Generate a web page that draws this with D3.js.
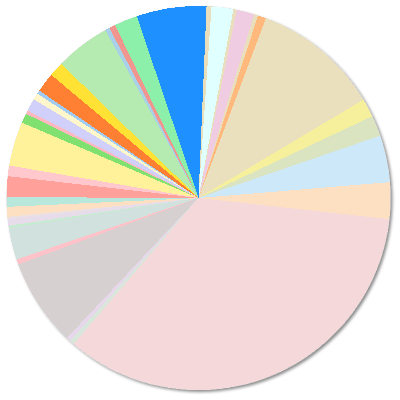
<!DOCTYPE html>
<html>
<head>
<meta charset="utf-8">
<script src="https://cdn.jsdelivr.net/npm/d3@7"></script>
<style>
html,body{margin:0;padding:0;background:#fff;}
svg{display:block;}
</style>
</head>
<body>
<svg id="chart" width="400" height="400"></svg>
<script>
// Slice values (degrees of arc, read clockwise starting just right of 12 o'clock)
const values = [1.5, 6.6, 1.0, 5.4, 1.2, 2.5, 38.7, 5.6, 6.3, 14.2, 11.1, 124.4,
  1.4, 1.3, 26.6, 1.6, 9.6, 0.7, 2.1, 0.6, 3.0, 2.9, 6.3, 3.2, 13.4, 2.9, 1.1,
  3.8, 2.0, 1.1, 5.9, 4.5, 16.6, 1.4, 1.9, 7.0, 21.2];
const colors = ["#e9dfbc", "#e0ffff", "#e9dfbc", "#f0cce2", "#e9dfbc", "#ffb97c", "#ebe0bd",
  "#f6f09c", "#dbe4c1", "#cde9f9", "#fde0c1", "#f4d8da",
  "#d8e6dc", "#e6d8ea", "#d6d0d0", "#ffc2c8", "#d1e1de", "#c6ecd0", "#e6dcea", "#ece0e0",
  "#fde0c1", "#b8e8dc", "#ffa09a", "#ffc8cc", "#fff29a", "#80e070", "#ffb8c0",
  "#d0d0fa", "#fff6cc", "#a2cbf2", "#ff7f33", "#ffe233", "#b5eab1", "#a9d0e9", "#f0968f",
  "#8cf0aa", "#1e90ff"];
const startDeg = 2.4;

const svg = d3.select("#chart");
const cx = 198.5, cy = 198, r = 192;

const defs = svg.append("defs");
const f = defs.append("filter").attr("id", "shadow")
  .attr("x", "-10%").attr("y", "-10%").attr("width", "120%").attr("height", "120%");
f.append("feDropShadow").attr("dx", 2).attr("dy", 2).attr("stdDeviation", 1.8)
  .attr("flood-color", "#000").attr("flood-opacity", 0.45);

const pie = d3.pie().sort(null).value(d => d)
  .startAngle(startDeg * Math.PI / 180)
  .endAngle((startDeg + 360) * Math.PI / 180);
const arc = d3.arc().innerRadius(0).outerRadius(r);

const g = svg.append("g").attr("transform", `translate(${cx},${cy})`);
// shadow disk underneath
g.append("circle").attr("r", r).attr("fill", "#ccc").attr("filter", "url(#shadow)");
g.selectAll("path.slice").data(pie(values)).join("path")
  .attr("class", "slice")
  .attr("d", arc)
  .attr("fill", (d, i) => colors[i])
  .attr("shape-rendering", "crispEdges");
</script>
</body>
</html>
